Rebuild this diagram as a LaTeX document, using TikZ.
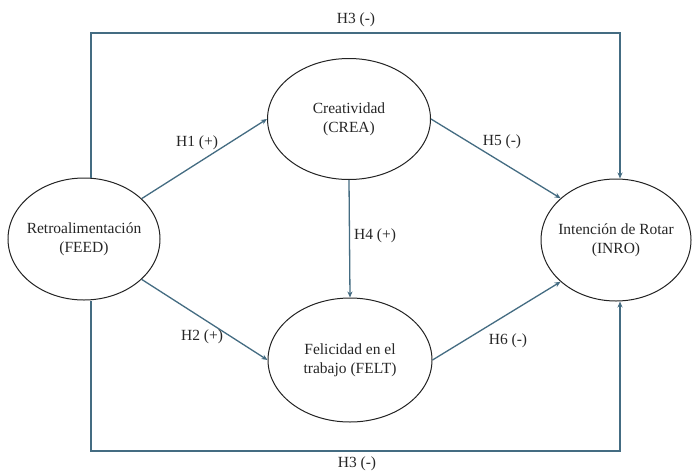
\documentclass[tikz,border=0pt]{standalone}
\usepackage{fontspec}
\setmainfont{Liberation Serif}
\usetikzlibrary{arrows.meta,shapes.geometric}
\definecolor{conncol}{RGB}{68,108,130}
\definecolor{ovalcol}{RGB}{35,35,35}
\begin{document}
\begin{tikzpicture}[x=1pt,y=-1pt,
  oval/.style={ellipse, draw=ovalcol, line width=1pt, inner xsep=-30pt, inner ysep=0pt, align=center, font=\fontsize{15.5}{19}\selectfont, text=black!85},
  conn/.style={draw=conncol, line width=1.3pt, -{Stealth[length=6pt,width=5pt]}},
  lbl/.style={font=\fontsize{15.5}{19}\selectfont, text=black!85, inner sep=0pt}]
\useasboundingbox[fill=white] (0,0) rectangle (692,471);

\node[oval, minimum width=152pt, minimum height=122pt] (retro) at (84,239) {Retroalimentación\\(FEED)};
\node[oval, minimum width=163pt, minimum height=121pt] (crea) at (349,119) {Creatividad\\(CREA)};
\node[oval, minimum width=164pt, minimum height=124pt] (felt) at (350,360) {Felicidad en el\\trabajo (FELT)};
\node[oval, minimum width=150pt, minimum height=122pt] (inro) at (616,240) {Intención de Rotar\\(INRO)};

\coordinate (tl) at (91,33);
\coordinate (tr) at (620,33);
\coordinate (bl) at (91,451);
\coordinate (br) at (620,451);

\draw[conn] (retro.35) -- (crea.180);
\draw[conn] (retro.325) -- (felt.180);
\draw[conn] (crea.south) -- (felt.north);
\draw[conn] (crea.0) -- (inro.143);
\draw[conn] (felt.0) -- (inro.217);
\draw[conn] (retro.north -| tl) -- (tl) -- (tr) -- (inro.north -| tr);
\draw[conn] (retro.south -| bl) -- (bl) -- (br) -- (inro.south -| br);

\node[lbl] (h3t) at (356,20) {H3 (-)};
\node[lbl] (h3b) at (357,464) {H3 (-)};
\node[lbl] (h1) at (197,143) {H1 (+)};
\node[lbl] (h2) at (202,337) {H2 (+)};
\node[lbl] (h4) at (375,236) {H4 (+)};
\node[lbl] (h5) at (502,142) {H5 (-)};
\node[lbl] (h6) at (508,341) {H6 (-)};
\end{tikzpicture}
\end{document}
